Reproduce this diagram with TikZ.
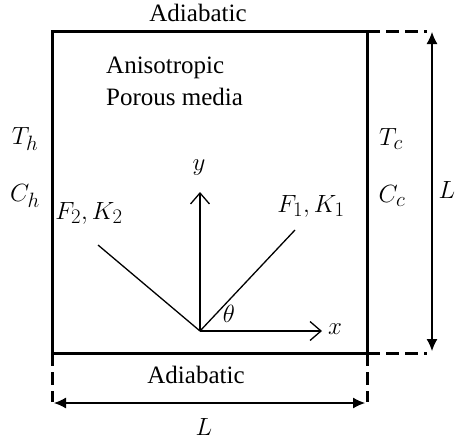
\documentclass[tikz,border=0pt]{standalone}
\usepackage{fontspec}
\setmainfont{Liberation Serif}
\usetikzlibrary{arrows.meta}
\tikzset{
  wall/.style={line width=3pt},
  dashwall/.style={line width=3pt, dash pattern=on 13pt off 6pt},
  dimline/.style={line width=1.2pt, {Latex[length=12pt,width=11pt]}-{Latex[length=12pt,width=11pt]}},
  axis/.style={line width=1.3pt, -{Straight Barb[length=11pt,width=19pt,line width=1.3pt]}},
  dirline/.style={line width=1.3pt},
  txt/.style={font=\fontsize{25}{29}\selectfont, inner sep=0pt},
  mlab/.style={font=\fontsize{28}{32}\selectfont, inner sep=0pt}
}
\begin{document}
\begin{tikzpicture}[x=1pt,y=-1pt]
\useasboundingbox (0,0) rectangle (455,439);
% corners
\coordinate (tl) at (52,31);
\coordinate (tr) at (367,31);
\coordinate (br) at (367,353);
\coordinate (bl) at (52,353);
\coordinate (trx) at (427,31);
\coordinate (brx) at (427,353);
\coordinate (bly) at (52,402);
\coordinate (bry) at (367,402);
% walls
\draw[wall] (tl) -- (tr) -- (br) -- (bl) -- cycle;
\draw[dashwall] (tr) -- (trx);
\draw[dashwall] (br) -- (brx);
\draw[dashwall] (bl) -- (bly);
\draw[dashwall] (br) -- (bry);
% dimension arrows
\coordinate (vt) at (432,32);
\coordinate (vb) at (432,351);
\coordinate (hl) at (54,403);
\coordinate (hr) at (365,403);
\draw[dimline] (vt) -- (vb);
\draw[dimline] (hl) -- (hr);
% texts
\node[txt, anchor=base] (adtop) at (198,21) {Adiabatic};
\node[txt, anchor=base] (adbot) at (196,383) {Adiabatic};
\node[txt, anchor=base west] (aniso) at (106,73) {Anisotropic};
\node[txt, anchor=base west] (porous) at (106,105) {Porous media};
\node[mlab] (th) at (25,139) {$T_h$};
\node[mlab] (ch) at (25,196) {$C_h$};
\node[mlab] (tc) at (391,139) {$T_c$};
\node[mlab] (cc) at (392,196) {$C_c$};
\node[mlab] (lr) at (447,190) {$L$};
\node[mlab] (lb) at (204,427) {$L$};
% axes
\coordinate (o) at (200,331);
\coordinate (yend) at (200,192);
\coordinate (xend) at (322,331);
\draw[axis] (o) -- (yend);
\draw[axis] (o) -- (xend);
\node[mlab] (ylab) at (199,168) {$y$};
\node[mlab] (xlab) at (335,329) {$x$};
\node[mlab] (theta) at (229,314) {$\theta$};
% principal directions
\coordinate (f1end) at (295,230);
\coordinate (f2end) at (98,245);
\draw[dirline] (o) -- (f1end);
\draw[dirline] (o) -- (f2end);
\node[mlab] (f1) at (311,206) {$F_1,K_1$};
\node[mlab] (f2) at (89,213) {$F_2,K_2$};
\end{tikzpicture}
\end{document}
